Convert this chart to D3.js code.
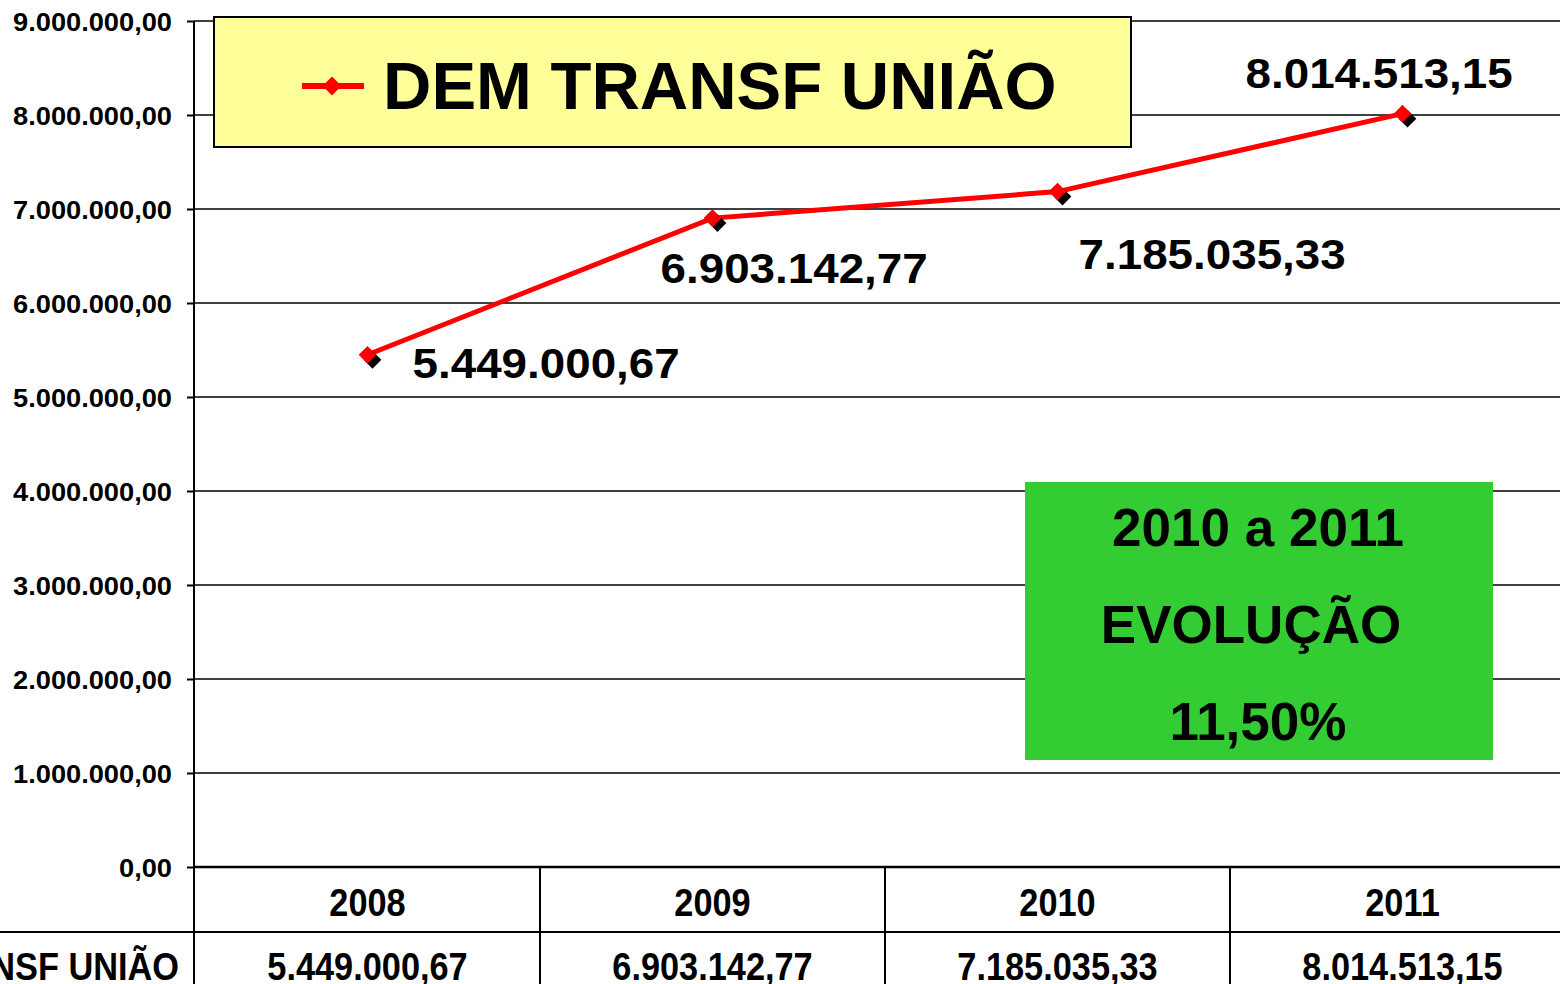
<!DOCTYPE html>
<html><head><meta charset="utf-8">
<script src="https://cdn.jsdelivr.net/npm/d3@7"></script>
<style>
html,body{margin:0;padding:0;background:#fff;overflow:hidden}
svg{display:block}
.b{font-family:Arial,"Liberation Sans",sans-serif;font-weight:bold}
</style></head>
<body><svg id="c" width="1560" height="984"></svg>
<script>
const years = ["2008","2009","2010","2011"];
const values = [5449000.67, 6903142.77, 7185035.33, 8014513.15];
const valueLabels = ["5.449.000,67","6.903.142,77","7.185.035,33","8.014.513,15"];
const yTicks = [0,1000000,2000000,3000000,4000000,5000000,6000000,7000000,8000000,9000000];
const yTickLabels = ["0,00","1.000.000,00","2.000.000,00","3.000.000,00","4.000.000,00","5.000.000,00","6.000.000,00","7.000.000,00","8.000.000,00","9.000.000,00"];
const seriesName = "DEM TRANSF UNIÃO";
const noteLines = ["2010 a 2011","EVOLUÇÃO","11,50%"];

const svg = d3.select("#c");
const x = d3.scaleBand().domain(years).range([195,1575]).padding(0);
const y = d3.scaleLinear().domain([0,9000000]).range([867,21]);
const cx = d=>x(d)+x.bandwidth()/2;

// gridlines
svg.append("g").selectAll("line").data(yTicks.slice(1)).join("line")
  .attr("x1",194).attr("x2",1560).attr("y1",d=>y(d)).attr("y2",d=>y(d))
  .attr("stroke","#000").attr("stroke-width",1.5);

// y axis
const yAxis = d3.axisLeft(y).tickValues(yTicks).tickSize(7).tickFormat((d,i)=>yTickLabels[i]);
const ga = svg.append("g").attr("transform","translate(194,0)").call(yAxis);
ga.select(".domain").remove();
ga.selectAll(".tick line").attr("stroke","#000").attr("stroke-width",2);
ga.selectAll(".tick text").attr("class","b").attr("font-size",25).attr("fill","#000")
  .attr("x",null).attr("dy",null).attr("y",null)
  .attr("transform","translate(-22,9) scale(1.09,1)");
svg.append("line").attr("x1",194).attr("x2",194).attr("y1",21).attr("y2",984).attr("stroke","#000").attr("stroke-width",2);

// table
svg.append("line").attr("x1",194).attr("x2",1560).attr("y1",y(0)).attr("y2",y(0)).attr("stroke","#000").attr("stroke-width",2.5);
svg.append("line").attr("x1",0).attr("x2",1560).attr("y1",932).attr("y2",932).attr("stroke","#000").attr("stroke-width",2);
svg.append("g").selectAll("line").data(years.slice(1)).join("line")
  .attr("x1",d=>x(d)).attr("x2",d=>x(d)).attr("y1",867).attr("y2",984)
  .attr("stroke","#000").attr("stroke-width",2);
const tsx = 0.88;
svg.append("g").selectAll("text").data(years).join("text").attr("class","b")
  .attr("transform",d=>`translate(${cx(d)},916) scale(${tsx},1)`).attr("text-anchor","middle")
  .attr("font-size",39).text(d=>d);
svg.append("g").selectAll("text").data(valueLabels).join("text").attr("class","b")
  .attr("transform",(d,i)=>`translate(${cx(years[i])},980) scale(${tsx},1)`).attr("text-anchor","middle")
  .attr("font-size",39).text(d=>d);
svg.append("text").attr("class","b").attr("transform",`translate(179,980) scale(${tsx},1)`).attr("text-anchor","end")
  .attr("font-size",39).text(seriesName);

// line
const line = d3.line().x((d,i)=>cx(years[i])).y(d=>y(d));
svg.append("path").datum(values).attr("d",line).attr("fill","none").attr("stroke","#ff0000").attr("stroke-width",5);

const diamond = d3.symbol().type(d3.symbolDiamond2).size(200);
svg.append("g").selectAll("path").data(values).join("path")
  .attr("d",diamond).attr("transform",(d,i)=>`translate(${cx(years[i])+5},${y(d)+5})`).attr("fill","#000");
svg.append("g").selectAll("path").data(values).join("path")
  .attr("d",diamond).attr("transform",(d,i)=>`translate(${cx(years[i])},${y(d)})`).attr("fill","#ff0000");

// data labels
const labelOffsets = [[45,23],[-52,65],[21,77],[-157,-26]];
svg.append("g").selectAll("text").data(valueLabels).join("text").attr("class","b")
  .attr("transform",(d,i)=>`translate(${cx(years[i])+labelOffsets[i][0]},${y(values[i])+labelOffsets[i][1]}) scale(1.09,1)`)
  .attr("font-size",42).text(d=>d);

// legend
svg.append("rect").attr("x",214).attr("y",17).attr("width",917).attr("height",130)
  .attr("fill","#ffff99").attr("stroke","#000").attr("stroke-width",2);
svg.append("line").attr("x1",302).attr("x2",364).attr("y1",86).attr("y2",86).attr("stroke","#ff0000").attr("stroke-width",6);
svg.append("path").attr("d",d3.symbol().type(d3.symbolDiamond2).size(230)).attr("transform","translate(332,86)").attr("fill","#ff0000");
svg.append("text").attr("class","b").attr("x",383).attr("y",109).attr("font-size",67).text(seriesName);

// note box
svg.append("rect").attr("x",1025).attr("y",482).attr("width",468).attr("height",278).attr("fill","#33cc33");
svg.append("g").selectAll("text").data(noteLines).join("text").attr("class","b")
  .attr("x",(d,i)=>i===1?1251:1258).attr("y",(d,i)=>546+i*97).attr("text-anchor","middle")
  .attr("font-size",53).text(d=>d);
</script></body></html>
